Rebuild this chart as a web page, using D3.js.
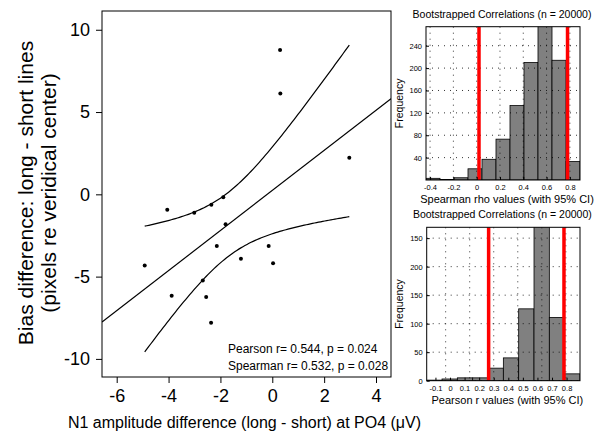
<!DOCTYPE html>
<html>
<head>
<meta charset="utf-8">
<script src="https://cdn.jsdelivr.net/npm/d3@7"></script>
<style>
    body { margin: 0; background: #fff; }
    svg text { font-family: "Liberation Sans", Arial, Helvetica, sans-serif; fill: #000; }
</style>
</head>
<body>
<svg id="chart" width="616" height="441"></svg>
<script>
// scatter data, one entry per subject
var n1Diff   = [0.30, 0.31, 2.97, -4.05, -3.01, -2.35, -1.89, -1.80, -2.14, -4.92, -1.21, -0.14, 0.03, -2.68, -3.88, -2.55, -2.36];
var biasDiff = [8.77, 6.12, 2.22, -0.94, -1.12, -0.63, -0.18, -1.82, -3.14, -4.32, -3.91, -3.14, -4.19, -5.23, -6.16, -6.24, -7.81];
var xTicks = [-6, -4, -2, 0, 2, 4];
var yTicks = [-10, -5, 0, 5, 10];
var statLines = ["Pearson r= 0.544, p = 0.024", "Spearman r= 0.532, p = 0.028"];
var tCrit = 2.131; // t(0.975, df = 15)

// bootstrap histograms
var spearmanCounts = [3, 1, 4, 20, 37, 73, 133, 210, 290, 214, 33];
var spearmanRange = [-0.435, 0.887];
var spearmanCI = [0.02, 0.78];
var spearmanXTicks = [-0.4, -0.2, 0, 0.2, 0.4, 0.6, 0.8];
var spearmanYTicks = [40, 80, 120, 160, 200, 240];

var pearsonCounts = [1, 3, 5, 5, 22, 40, 126, 300, 111, 12];
var pearsonRange = [-0.16, 0.892];
var pearsonCI = [0.265, 0.782];
var pearsonXTicks = [-0.1, 0, 0.1, 0.2, 0.3, 0.4, 0.5, 0.6, 0.7, 0.8];
var pearsonYTicks = [0, 50, 100, 150, 200, 250];
var pearsonYLabels = ["0", "50", "100", "150", "200", "150"];
var pearsonGridX = [-0.03, 0.135, 0.3, 0.465, 0.63, 0.795];

var svg = d3.select("#chart");

// ---------- main scatter ----------
var mLeft = 102, mRight = 391, mTop = 11, mBottom = 377;
var x = d3.scaleLinear().domain([-6.567, 4.578]).range([mLeft, mRight]);
var y = d3.scaleLinear().domain([-11.1, 11.14]).range([mBottom, mTop]);

svg.append("clipPath").attr("id", "mainClip")
    .append("rect").attr("x", mLeft).attr("y", mTop)
    .attr("width", mRight - mLeft).attr("height", mBottom - mTop);

// least squares fit + 95% CI of the mean
var n = n1Diff.length;
var mx = d3.mean(n1Diff), my = d3.mean(biasDiff);
var sxx = 0, sxy = 0;
n1Diff.forEach(function(v, i) {
    sxx += (v - mx) * (v - mx);
    sxy += (v - mx) * (biasDiff[i] - my);
});
var slope = sxy / sxx;
var icpt = my - slope * mx;
var sse = 0;
n1Diff.forEach(function(v, i) {
    var r = biasDiff[i] - (icpt + slope * v);
    sse += r * r;
});
var se = Math.sqrt(sse / (n - 2));
function band(v, sign) {
    var h = tCrit * se * Math.sqrt(1 / n + (v - mx) * (v - mx) / sxx);
    return icpt + slope * v + sign * h;
}
var xs = d3.range(0, 101).map(function(k) {
    return d3.min(n1Diff) + k * (d3.max(n1Diff) - d3.min(n1Diff)) / 100;
});
var lineGen = d3.line().x(function(d) { return x(d[0]); }).y(function(d) { return y(d[1]); });

var g = svg.append("g").attr("clip-path", "url(#mainClip)");
g.append("path")
    .attr("d", lineGen(x.domain().map(function(v) { return [v, icpt + slope * v]; })))
    .attr("fill", "none").attr("stroke", "#000").attr("stroke-width", 1.2);
[1, -1].forEach(function(s) {
    g.append("path")
        .attr("d", lineGen(xs.map(function(v) { return [v, band(v, s)]; })))
        .attr("fill", "none").attr("stroke", "#000").attr("stroke-width", 1.2);
});
g.selectAll("circle")
    .data(n1Diff)
    .enter()
    .append("circle")
    .attr("cx", function(d) { return x(d); })
    .attr("cy", function(d, i) { return y(biasDiff[i]); })
    .attr("r", 2)
    .attr("fill", "#000");

svg.append("rect")
    .attr("x", mLeft).attr("y", mTop)
    .attr("width", mRight - mLeft).attr("height", mBottom - mTop)
    .attr("fill", "none").attr("stroke", "#000").attr("stroke-width", 1);

var xAxis = svg.append("g").attr("transform", "translate(0," + mBottom + ")")
    .call(d3.axisBottom(x).tickValues(xTicks).tickSize(6).tickPadding(6).tickFormat(function(d) { return String(d); }));
xAxis.select(".domain").remove();
xAxis.selectAll("text").style("font-size", "18px");

var yAxis = svg.append("g").attr("transform", "translate(" + mLeft + ",0)")
    .call(d3.axisLeft(y).tickValues(yTicks).tickSize(6).tickPadding(6).tickFormat(function(d) { return String(d); }));
yAxis.select(".domain").remove();
yAxis.selectAll("text").style("font-size", "18px");

svg.selectAll(".stat")
    .data(statLines)
    .enter()
    .append("text")
    .attr("class", "stat")
    .attr("x", 228)
    .attr("y", function(d, i) { return 353 + i * 17; })
    .style("font-size", "12px")
    .text(function(d) { return d; });

svg.append("text")
    .attr("x", (mLeft + mRight) / 2 - 2).attr("y", 428)
    .attr("text-anchor", "middle")
    .style("font-size", "16px")
    .text("N1 amplitude difference (long - short) at PO4 (\u03bcV)");

var yl = svg.append("text")
    .attr("transform", "translate(33,193) rotate(-90)")
    .attr("text-anchor", "middle")
    .style("font-size", "21px");
yl.append("tspan").attr("x", 0).attr("y", 0).text("Bias difference: long - short lines");
yl.append("tspan").attr("x", 0).attr("y", 23).text("(pixels re veridical center)");

// ---------- histograms ----------
function drawHist(cfg) {
    var b = cfg.box;
    var hx = d3.scaleLinear().domain(cfg.range).range([b[0], b[2]]);
    var hy = d3.scaleLinear().domain([0, cfg.yMax]).range([b[3], b[1]]);
    var w = (cfg.range[1] - cfg.range[0]) / cfg.counts.length;
    var hg = svg.append("g");

    hg.append("clipPath").attr("id", cfg.id)
        .append("rect").attr("x", b[0]).attr("y", b[1])
        .attr("width", b[2] - b[0]).attr("height", b[3] - b[1]);
    var inner = hg.append("g").attr("clip-path", "url(#" + cfg.id + ")");

    inner.selectAll("rect.bar")
        .data(cfg.counts)
        .enter()
        .append("rect")
        .attr("class", "bar")
        .attr("x", function(d, i) { return hx(cfg.range[0] + i * w); })
        .attr("width", function(d, i) { return hx(cfg.range[0] + (i + 1) * w) - hx(cfg.range[0] + i * w); })
        .attr("y", function(d) { return hy(d); })
        .attr("height", function(d) { return hy(0) - hy(d); })
        .attr("fill", "#808080")
        .attr("stroke", "#000")
        .attr("stroke-width", 0.8);

    // dotted grid on top of the bars
    inner.selectAll("line.gx")
        .data(cfg.gridX)
        .enter()
        .append("line")
        .attr("x1", function(d) { return hx(d); }).attr("x2", function(d) { return hx(d); })
        .attr("y1", b[1]).attr("y2", b[3])
        .attr("stroke", "#000").attr("stroke-width", 0.8).attr("stroke-dasharray", "1,5");
    inner.selectAll("line.gy")
        .data(cfg.yTicks)
        .enter()
        .append("line")
        .attr("y1", function(d) { return hy(d); }).attr("y2", function(d) { return hy(d); })
        .attr("x1", b[0]).attr("x2", b[2])
        .attr("stroke", "#000").attr("stroke-width", 0.8).attr("stroke-dasharray", "1,5");

    inner.selectAll("line.ci")
        .data(cfg.ci)
        .enter()
        .append("line")
        .attr("x1", function(d) { return hx(d); }).attr("x2", function(d) { return hx(d); })
        .attr("y1", b[1]).attr("y2", b[3])
        .attr("stroke", "#ff0000").attr("stroke-width", 3.5);

    hg.append("rect")
        .attr("x", b[0]).attr("y", b[1])
        .attr("width", b[2] - b[0]).attr("height", b[3] - b[1])
        .attr("fill", "none").attr("stroke", "#000").attr("stroke-width", 1);

    var ax = hg.append("g").attr("transform", "translate(0," + b[3] + ")")
        .call(d3.axisBottom(hx).tickValues(cfg.xTicks).tickSize(-3).tickPadding(5).tickFormat(function(d) { return String(d); }));
    ax.select(".domain").remove();
    ax.selectAll("text").style("font-size", "7.5px");

    var ay = hg.append("g").attr("transform", "translate(" + b[0] + ",0)")
        .call(d3.axisLeft(hy).tickValues(cfg.yTicks).tickSize(-3).tickPadding(4)
            .tickFormat(function(d, i) { return cfg.yLabels ? cfg.yLabels[i] : String(d); }));
    ay.select(".domain").remove();
    ay.selectAll("text").style("font-size", "7.5px");

    hg.append("text")
        .attr("x", (b[0] + b[2]) / 2 - 1).attr("y", b[1] - 9)
        .attr("text-anchor", "middle")
        .style("font-size", "10.5px")
        .text(cfg.title);
    hg.append("text")
        .attr("x", (b[0] + b[2]) / 2 + 4).attr("y", b[3] + 23)
        .attr("text-anchor", "middle")
        .style("font-size", "11px")
        .text(cfg.xlabel);
    hg.append("text")
        .attr("transform", "translate(403," + ((b[1] + b[3]) / 2) + ") rotate(-90)")
        .attr("text-anchor", "middle")
        .style("font-size", "10.5px")
        .text("Frequency");
}

drawHist({
    id: "clipSp", box: [426, 26.7, 580, 180], yMax: 274,
    counts: spearmanCounts, range: spearmanRange, ci: spearmanCI,
    xTicks: spearmanXTicks, yTicks: spearmanYTicks, gridX: spearmanXTicks,
    title: "Bootstrapped Correlations (n = 20000)",
    xlabel: "Spearman rho values (with 95% CI)"
});
drawHist({
    id: "clipPe", box: [426.7, 227.3, 580, 380.7], yMax: 269,
    counts: pearsonCounts, range: pearsonRange, ci: pearsonCI,
    xTicks: pearsonXTicks, yTicks: pearsonYTicks, yLabels: pearsonYLabels, gridX: pearsonGridX,
    title: "Bootstrapped Correlations (n = 20000)",
    xlabel: "Pearson r values (with 95% CI)"
});
</script>
</body>
</html>
